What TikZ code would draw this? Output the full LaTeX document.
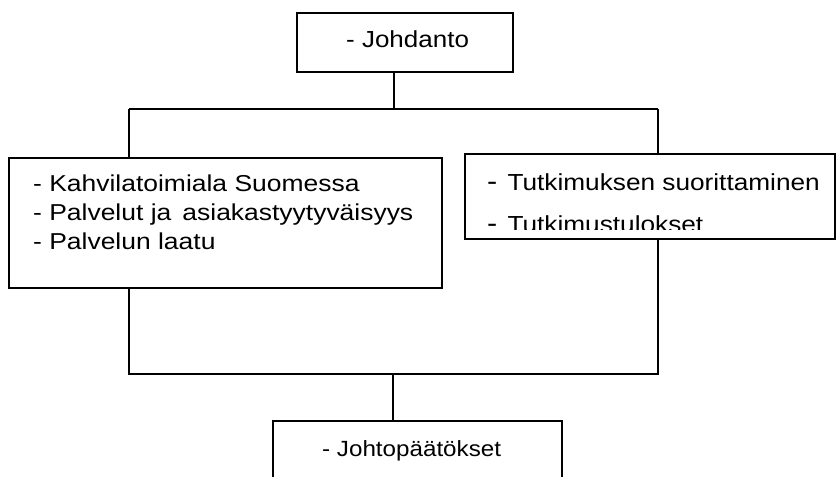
\documentclass[tikz,border=0pt]{standalone}
\usepackage{fontspec}
\usepackage{graphicx}
\setmainfont{Liberation Sans}
\newcommand\wide[3]{\fontsize{#1}{#1}\selectfont\scalebox{#2}[1]{#3}}
\begin{document}
\begin{tikzpicture}[x=1pt,y=-1pt,
  box/.style={draw,line width=1.6pt,rectangle,inner sep=0pt,minimum width=#1},
  label/.style={inner sep=0pt,anchor=base west},
  link/.style={line width=1.6pt}]
  \useasboundingbox (0,0) rectangle (839,477);
  \clip (0,0) rectangle (839,477);

  % boxes
  \node[box=216pt,minimum height=59pt]  (jd)   at (405,42.5)  {};
  \node[box=433pt,minimum height=130pt] (teoria) at (225.5,223) {};
  \node[box=370pt,minimum height=85pt]  (tutk) at (650,196.5) {};
  \node[box=289pt,minimum height=80pt]  (jp)   at (417.5,461) {};

  % texts
  \node[label] (jdtxt) at (346,47) {\wide{23.2pt}{1.12}{- Johdanto}};
  \node[label] (t1) at (33,191.5) {\wide{23pt}{1.15}{- Kahvilatoimiala Suomessa}};
  \node[label] (t2) at (33,220.2) {\wide{23pt}{1.15}{- Palvelut ja\hspace{0.42em}asiakastyytyväisyys}};
  \node[label] (t3) at (33,249) {\wide{23pt}{1.15}{- Palvelun laatu}};
  \node[label] (u1) at (487,190) {\wide{23.2pt}{1.13}{{\fontsize{27pt}{27pt}\selectfont -}\hspace{9pt}Tutkimuksen suorittaminen}};
  \begin{scope}
    \clip (465,154) rectangle (835,229);
    \node[label] (u2) at (487,232) {\wide{23.2pt}{1.13}{{\fontsize{27pt}{27pt}\selectfont -}\hspace{9pt}Tutkimustulokset}};
  \end{scope}
  \node[label] (jptxt) at (322,456) {\wide{22pt}{1.1}{- Johtopäätökset}};

  % branch points of the connectors
  \coordinate (busTop) at (394,109);
  \coordinate (busTL)  at (129,109);
  \coordinate (busTR)  at (658,109);
  \coordinate (busBL)  at (129,374);
  \coordinate (busBR)  at (658,374);
  \coordinate (busBot) at (393,374);

  % connectors
  \draw[link] (jd.south -| busTop) -- (busTop);
  \draw[link] (busTL) -- (busTR);
  \draw[link] (busTL) -- (teoria.north -| busTL);
  \draw[link] (busTR) -- (tutk.north -| busTR);
  \draw[link] (teoria.south -| busBL) -- (busBL) -- (busBR) -- (tutk.south -| busBR);
  \draw[link] (busBot) -- (jp.north -| busBot);
\end{tikzpicture}
\end{document}
